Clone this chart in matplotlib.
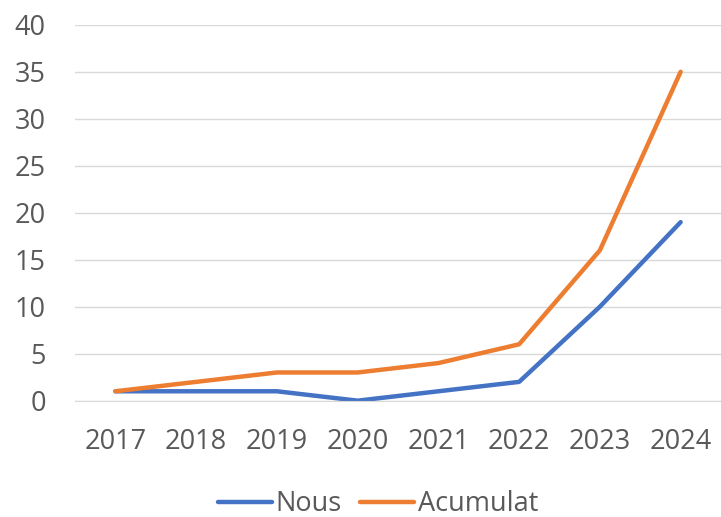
import matplotlib.pyplot as plt

years = ['2017', '2018', '2019', '2020', '2021', '2022', '2023', '2024']
nous = [1, 1, 1, 0, 1, 2, 10, 19]
acumulat = [1, 2, 3, 3, 4, 6, 16, 35]

plt.rcParams['font.family'] = ['Open Sans', 'DejaVu Sans']

fig = plt.figure(figsize=(7.21, 5.17), dpi=100)
ax = fig.add_axes([0.104, 0.225, 0.896, 0.727])

x = range(len(years))
ax.plot(x, nous, color='#4472C4', linewidth=3.2, label='Nous', solid_capstyle='round')
ax.plot(x, acumulat, color='#ED7D31', linewidth=3.2, label='Acumulat', solid_capstyle='round')

ax.set_xlim(-0.5, len(years) - 0.5)
ax.set_ylim(0, 40)
ax.set_yticks(range(0, 41, 5))
ax.set_xticks(list(x))
ax.set_xticklabels(years)
ax.tick_params(axis='both', length=0, labelsize=19.5, labelcolor='#595959')
ax.tick_params(axis='x', pad=20)
ax.tick_params(axis='y', pad=21)
ax.grid(axis='y', color='#D9D9D9', linewidth=1)
ax.set_axisbelow(True)
for s in ['top', 'right', 'left']:
    ax.spines[s].set_visible(False)
ax.spines['bottom'].set_color('#D9D9D9')

fig.legend(loc='lower center', bbox_to_anchor=(0.524, -0.05), ncol=2, frameon=False,
           fontsize=19.5, labelcolor='#595959', handlelength=2.0, columnspacing=0.7,
           handletextpad=0.12)

fig.savefig('out.png', dpi=100)
